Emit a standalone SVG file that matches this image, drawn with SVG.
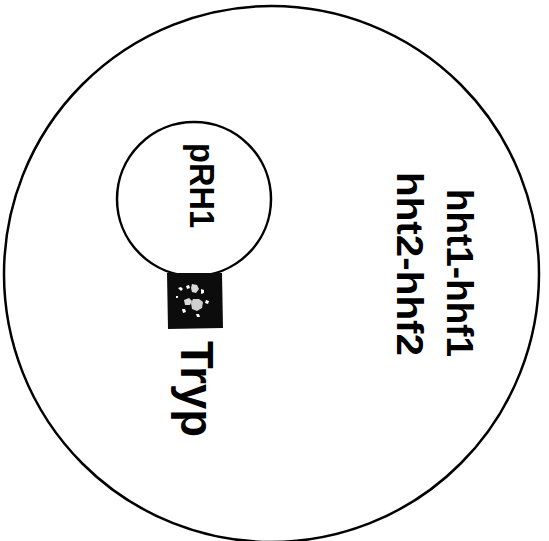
<svg xmlns="http://www.w3.org/2000/svg" width="549" height="541" viewBox="0 0 549 541">
<style>
.line{fill:none;stroke:#000;stroke-width:2.5}
.lbl{font-family:"Liberation Sans",Arial,sans-serif;font-weight:bold;fill:#000}
</style>
<rect width="549" height="541" fill="#fff"/>
<g id="cell">
<ellipse class="line" cx="271.5" cy="274" rx="267.5" ry="268"/>
</g>
<g id="plasmid-pRH1">
<circle class="line" cx="194" cy="199" r="77"/>
<text class="lbl" x="190" y="143" font-size="35" textLength="85" lengthAdjust="spacingAndGlyphs" transform="rotate(90 190 143)">pRH1</text>
</g>
<g id="tryp-marker">
<path d="M167,273 L222,273 L223,328 L168,329 Z" fill="#0c0c0c"/>
<g fill="#fff">
<path d="M178,288 l3,-1 l2,2 l-2,2 Z"/>
<path d="M186,286 l3,-1 l1,3 l-3,1 Z"/>
<path d="M192,284 l5,1 l2,4 l-3,4 l-4,-1 l-1,-4 Z" opacity="0.85"/>
<path d="M201,289 l3,1 l0,3 l-3,1 Z"/>
<path d="M184,300 l5,-2 l3,3 l-2,4 l-5,0 Z" opacity="0.85"/>
<path d="M193,299 l6,0 l4,3 l-1,6 l-5,3 l-5,-2 l-1,-6 Z" opacity="0.8"/>
<path d="M182,309 l3,0 l1,3 l-3,1 Z"/>
<path d="M196,314 l3,0 l1,3 l-3,0 Z"/>
<path d="M206,300 l3,1 l-1,3 l-3,-1 Z"/>
<path d="M176,296 l2,0 l0,2 l-2,0 Z"/>
</g>
<text class="lbl" x="181" y="341" font-size="46" textLength="96" lengthAdjust="spacingAndGlyphs" transform="rotate(90 181 341)">Tryp</text>
</g>
<g id="genes">
<text class="lbl" x="447" y="189" font-size="36" textLength="168" lengthAdjust="spacingAndGlyphs" transform="rotate(90 447 189)">hht1-hhf1</text>
<text class="lbl" x="397" y="172" font-size="36" textLength="184" lengthAdjust="spacingAndGlyphs" transform="rotate(90 397 172)">hht2-hhf2</text>
</g>
<g id="connectors"/>
</svg>
